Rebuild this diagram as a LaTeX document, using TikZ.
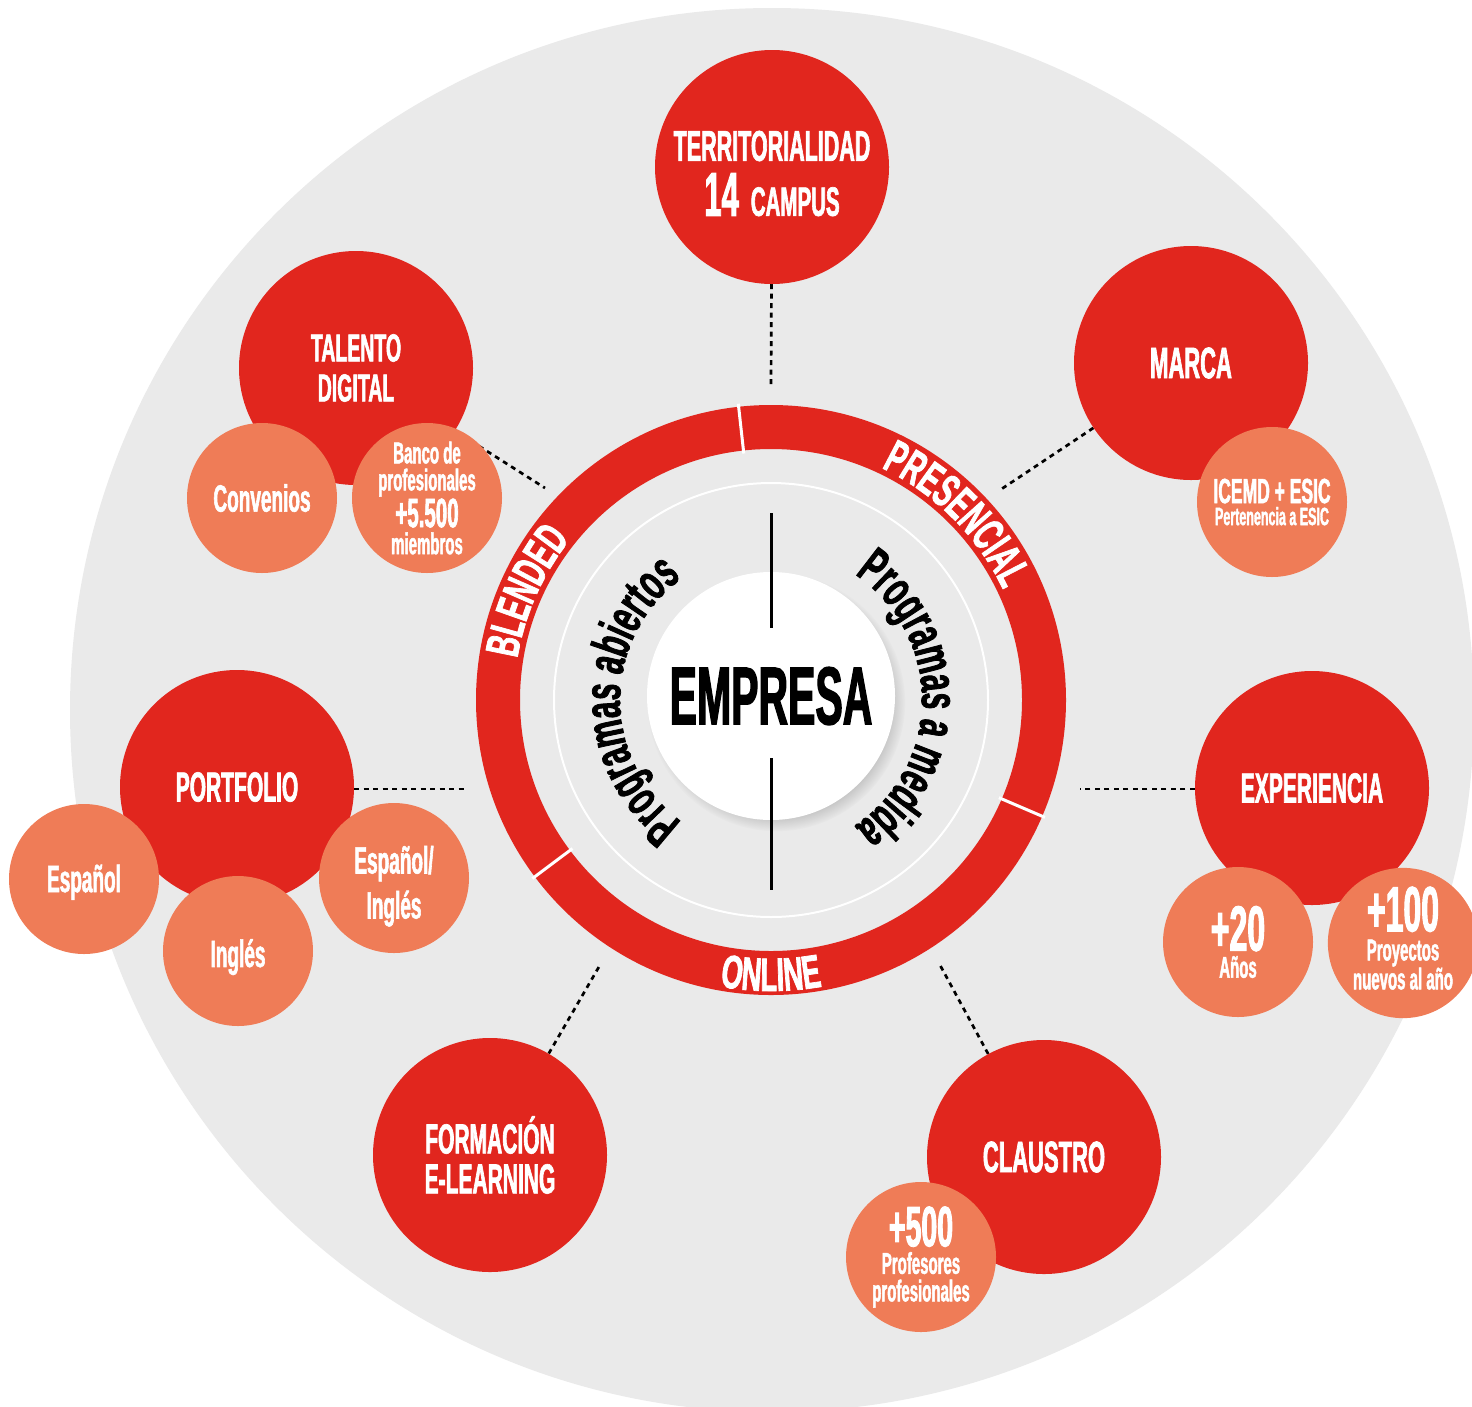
\documentclass[tikz,border=0pt]{standalone}
\usepackage{fontspec}
\setmainfont{Liberation Sans}
\newfontfamily\condfont{Liberation Sans}[FakeStretch=0.5, FakeBold=1.5]
\newfontfamily\ringfont{Liberation Sans}[FakeStretch=0.58, FakeBold=1.5]
\usetikzlibrary{calc,positioning,backgrounds,shadows,decorations.text}
\definecolor{esicred}{RGB}{225,38,30}
\definecolor{esicorange}{RGB}{239,124,87}
\definecolor{ringgray}{RGB}{234,234,234}
\newcommand{\fsz}[1]{\fontsize{#1}{#1}\selectfont}
\tikzstyle{pillar}=[circle, fill=esicred, minimum size=234pt, inner sep=0pt, text=white, align=center, font=\condfont\bfseries\fontsize{42}{40}\selectfont]
\tikzstyle{fact}=[circle, fill=esicorange, minimum size=150pt, inner sep=0pt, text=white, align=center, font=\condfont\bfseries\fontsize{30}{27}\selectfont]
\tikzstyle{connect}=[line width=2.7pt, dash pattern=on 5pt off 4.5pt]
\tikzstyle{divider}=[white, line width=3pt]
\tikzstyle{ringlabel}=[decorate, decoration={text along path, text align=center, text color=white}]

\begin{document}
\begin{tikzpicture}[x=1pt,y=1pt]
  \useasboundingbox (0,0) rectangle (1472,-1406);
  \coordinate (c) at (771,-700);

  \fill[esicred, even odd rule] (c) circle[radius=295pt] (c) circle[radius=251pt];
  \foreach \a in {96.3,-23.2,216.8}
    \draw[divider] ($(c)+(\a:248pt)$) -- ($(c)+(\a:298pt)$);
  \draw[white, line width=2pt] (c) circle[radius=217pt];

  \path[ringlabel, decoration={text={|\ringfont\bfseries\fsz{47}|PRESENCIAL}}]
    ($(c)+(90:257pt)$) arc[start angle=90, end angle=0, radius=257pt];
  \path[ringlabel, decoration={text={|\ringfont\bfseries\fsz{47}|BLENDED}}]
    ($(c)+(201:257pt)$) arc[start angle=201, end angle=111, radius=257pt];
  \path[ringlabel, decoration={text={|\ringfont\bfseries\fsz{47}|ONLINE}}]
    ($(c)+(-135:291pt)$) arc[start angle=-135, end angle=-45, radius=291pt];

  \path[decorate, decoration={text along path, text align=center,
      text={|\ringfont\bfseries\fsz{52}|Programas abiertos}}]
    ($(c)+(235:151pt)$) arc[start angle=235, end angle=125, radius=151pt];
  \path[decorate, decoration={text along path, text align=center,
      text={|\ringfont\bfseries\fsz{52}|Programas a medida}}]
    ($(c)+(55:151pt)$) arc[start angle=55, end angle=-55, radius=151pt];

  \node[circle, fill=white, minimum size=248pt, inner sep=0pt,
        circular drop shadow={shadow xshift=5pt, shadow yshift=-6pt, shadow scale=1.04, opacity=0.45},
        font=\condfont\bfseries\fsz{82}] (empresa) at (771,-696) {EMPRESA};
  \draw[line width=3pt] (771,-513) -- (771,-628);
  \draw[line width=3pt] (771,-758) -- (771,-890);

  \node[pillar, font=\condfont\bfseries\fontsize{43}{55}\selectfont] (terr) at (772,-167)
    {\rule{0pt}{43pt}TERRITORIALIDAD\\{\fsz{62}14}\hspace{12pt}{\fsz{41}CAMPUS}};
  \node[pillar, font=\condfont\bfseries\fontsize{39}{40}\selectfont] (talento) at (356,-368) {TALENTO\\DIGITAL};
  \node[pillar, font=\condfont\bfseries\fsz{44}] (marca) at (1191,-363) {MARCA};
  \node[pillar] (port) at (237,-787) {PORTFOLIO};
  \node[pillar] (exp) at (1312,-788) {EXPERIENCIA};
  \node[pillar, font=\condfont\bfseries\fsz{44}] (claustro) at (1044,-1157) {CLAUSTRO};
  \node[pillar] (formacion) at (490,-1155) {FORMACIÓN\\E-LEARNING};

  \node[fact, font=\condfont\bfseries\fsz{38}] (conv) at ($(talento)+(-94,-130)$) {Convenios};
  \node[fact] (banco) at ($(talento)+(71,-130)$) {Banco de\\profesionales\\[1pt]{\fsz{41}+5.500}\\miembros};
  \node[fact, font=\condfont\bfseries\fontsize{25}{22}\selectfont] (icemd) at ($(marca)+(81,-139)$)
    {{\fsz{35}ICEMD + ESIC}\\Pertenencia a ESIC};
  \node[fact, font=\condfont\bfseries\fsz{38}] (espanol) at ($(port)+(-153,-92)$) {\rule{0pt}{34pt}Español};
  \node[fact, font=\condfont\bfseries\fsz{38}] (ingles) at ($(port)+(1,-164)$) {\rule{0pt}{40pt}Inglés};
  \node[fact, font=\condfont\bfseries\fontsize{38}{45}\selectfont] (espingles) at ($(port)+(157,-91)$)
    {\rule{0pt}{44pt}Español/\\Inglés};
  \node[fact] (anos) at ($(exp)+(-74,-154)$) {{\fsz{64}+20}\\Años};
  \node[fact, font=\condfont\bfseries\fontsize{30}{29}\selectfont] (proy) at ($(exp)+(91,-155)$)
    {{\fsz{64}+100}\\Proyectos\\nuevos al año\rule[-10pt]{0pt}{0pt}};
  \node[fact, font=\condfont\bfseries\fontsize{30}{27.5}\selectfont] (profes) at ($(claustro)+(-123,-100)$)
    {{\fsz{57}+500}\\Profesores\\profesionales};

  \coordinate (terrEnd) at (771,-385);
  \coordinate (talentoEnd) at (545,-488);
  \coordinate (marcaEnd) at (1000,-490);
  \coordinate (portEnd) at (465,-789);
  \coordinate (expEnd) at (1080,-789);
  \coordinate (formacionEnd) at (600,-965);
  \coordinate (claustroEnd) at (940,-965);

  \begin{scope}[on background layer]
    \fill[white] (0,0) rectangle (1472,-1406);
    \fill[ringgray] (772,-710) circle[radius=702pt];
    \path (terr) edge[connect] (terrEnd)
          (talento) edge[connect] (talentoEnd)
          (marca) edge[connect] (marcaEnd)
          (port.east |- portEnd) edge[connect] (portEnd)
          (exp.west |- expEnd) edge[connect] (expEnd)
          (formacion) edge[connect] (formacionEnd)
          (claustro) edge[connect] (claustroEnd);
  \end{scope}
\end{tikzpicture}
\end{document}
